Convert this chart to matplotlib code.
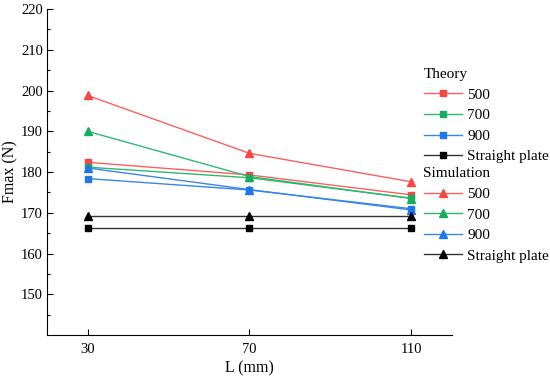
import matplotlib.pyplot as plt

plt.rcParams['font.family'] = 'Liberation Serif'
plt.rcParams['font.size'] = 10

L = [30, 70, 110]

theory_500 = [182.4, 179.3, 174.4]
theory_700 = [181.2, 178.6, 173.6]
theory_900 = [178.4, 175.6, 171.0]
theory_straight = [166.3, 166.3, 166.3]

sim_500 = [198.8, 184.6, 177.6]
sim_700 = [190.0, 178.9, 173.5]
sim_900 = [181.0, 175.7, 170.7]
sim_straight = [169.1, 169.1, 169.1]

labels = ['500', '700', '900', 'Straight plate']
colors = ['#FA4545', '#17AD5E', '#1F77E8', '#000000']
line_colors = ['#FA6060', '#30B870', '#3A85EA', '#333333']

fig = plt.figure(figsize=(5.5, 3.83), dpi=100)
ax = fig.add_axes([0.0855, 0.125, 0.736, 0.8515])

theory = [theory_500, theory_700, theory_900, theory_straight]
sim = [sim_500, sim_700, sim_900, sim_straight]

h_theory = []
h_sim = []
for i in range(4):
    h, = ax.plot(L, theory[i], color=line_colors[i], lw=1.0, marker='s', ms=5,
                 mfc=colors[i], mec=colors[i])
    h_theory.append(h)
for i in range(4):
    h, = ax.plot(L, sim[i], color=line_colors[i], lw=1.0, marker='^', ms=6,
                 mfc=colors[i], mec=colors[i])
    h_sim.append(h)

ax.set_xlim(20, 120)
ax.set_ylim(140, 220)
ax.set_xticks(L)
ax.set_yticks(range(150, 221, 10))
ax.set_yticks(range(145, 221, 5), minor=True)
ax.tick_params(direction='in', length=4, width=0.8, labelsize=10.5)
ax.tick_params(which='minor', direction='in', length=2.5, width=0.8)
ax.tick_params(axis='x', pad=6)
ax.tick_params(axis='y', pad=3)
ax.spines['top'].set_visible(False)
ax.spines['right'].set_visible(False)
ax.set_xlabel('L (mm)', fontsize=11.5, labelpad=3)
ax.set_ylabel('Fmax (N)', fontsize=11.5, labelpad=2)

kw = dict(alignment='left', frameon=False, loc='upper left',
          bbox_transform=fig.transFigure, handlelength=2.5,
          handletextpad=0.35, labelspacing=0.45, borderpad=0,
          borderaxespad=0, fontsize=11, title_fontsize=11)
leg1 = ax.legend(h_theory, labels, title='Theory', bbox_to_anchor=(0.77, 0.822), **kw)
ax.add_artist(leg1)
leg2 = ax.legend(h_sim, labels, title='Simulation', bbox_to_anchor=(0.77, 0.563), **kw)

fig.savefig('out.png', dpi=100)
